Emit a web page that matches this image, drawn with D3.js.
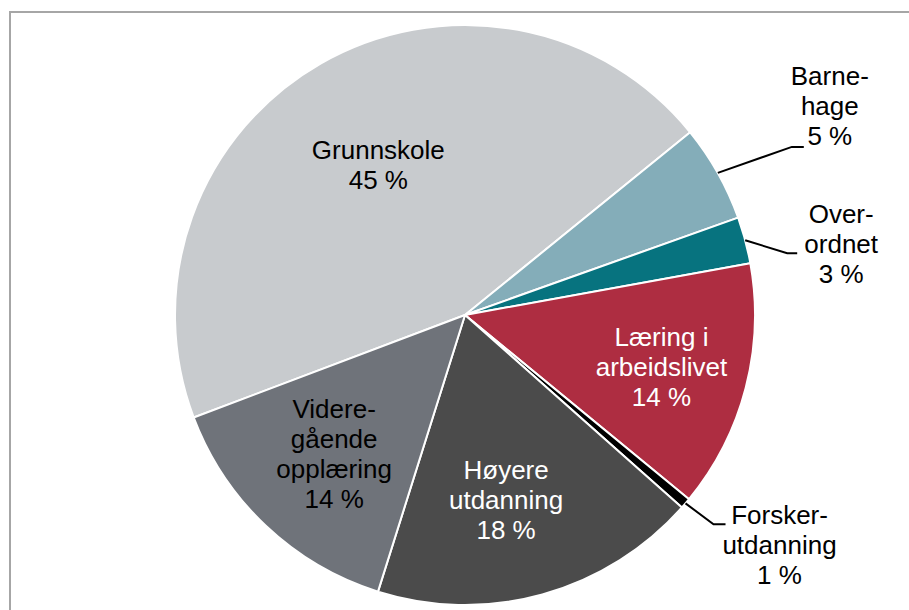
<!DOCTYPE html>
<html>
<head>
<meta charset="utf-8">
<script src="https://cdn.jsdelivr.net/npm/d3@7"></script>
<style>
  body { margin: 0; background: #fff; }
  text { font-family: "Liberation Sans", Arial, sans-serif; font-size: 26px; }
</style>
</head>
<body>
<script>
  // data
  var categories = ["Grunnskole", "Barnehage", "Overordnet", "Læring i arbeidslivet",
                    "Forskerutdanning", "Høyere utdanning", "Videregående opplæring"];
  var values = [44.9, 5.4, 2.6, 13.8, 0.6, 18.3, 14.4];
  var labelLines = [["Grunnskole"], ["Barne-", "hage"], ["Over-", "ordnet"], ["Læring i", "arbeidslivet"],
                    ["Forsker-", "utdanning"], ["Høyere", "utdanning"], ["Videre-", "gående", "opplæring"]];
  var colors = ["#c8cbce", "#84adb9", "#07737f", "#ae2d41", "#000000", "#4b4b4b", "#6f737a"];
  var textColors = ["#000", "#000", "#000", "#fff", "#000", "#fff", "#000"];

  var width = 909, height = 610;
  var cx = 465, cy = 315, radius = 290;
  var lineH = 30;

  // label layout: inside labels sit on a radius fraction, outside ones use a leader line
  var inside = {
    0: { f: 0.60, dx: 0 },
    3: { f: 0.70, dx: 0 },
    5: { f: 0.66, dx: -10 },
    6: { f: 0.657, dx: 0 }
  };
  var outside = {
    1: { ex: 74, ey: -26, h: 12, tx: 26, at: 2, dy: -2 },
    2: { ex: 42, ey: 13, h: 10, tx: 44, at: 1, dy: 0 },
    4: { ex: 28, ey: 21, h: 12, tx: 54, at: 0, dy: 0 }
  };

  var svg = d3.select("body").append("svg")
    .attr("width", width)
    .attr("height", height);

  // frame (runs off the right and bottom edges)
  svg.append("rect")
    .attr("x", 10).attr("y", 12)
    .attr("width", 940).attr("height", 640)
    .attr("fill", "none")
    .attr("stroke", "#a6a6a6")
    .attr("stroke-width", 2);

  var start = -110.7 * Math.PI / 180;
  var pie = d3.pie().sort(null).startAngle(start).endAngle(start + 2 * Math.PI);
  var arcs = pie(values);
  var arc = d3.arc().innerRadius(0).outerRadius(radius);

  var g = svg.append("g").attr("transform", "translate(" + cx + "," + cy + ")");

  g.selectAll("path.slice").data(arcs).enter().append("path")
    .attr("class", "slice")
    .attr("d", arc)
    .attr("fill", function(d, i) { return colors[i]; })
    .attr("stroke", "#fff")
    .attr("stroke-width", 2)
    .attr("stroke-linejoin", "round");

  function lines(i) {
    return labelLines[i].concat([Math.round(values[i]) + " %"]);
  }

  arcs.forEach(function(d, i) {
    var mid = (d.startAngle + d.endAngle) / 2;
    var ls = lines(i);
    var x, firstBase;
    if (inside[i]) {
      var r = inside[i].f * radius;
      x = r * Math.sin(mid) + inside[i].dx;
      var y = -r * Math.cos(mid);
      firstBase = y - (ls.length - 1) * lineH / 2 + 9.5;
    } else {
      var o = outside[i];
      var px = radius * Math.sin(mid), py = -radius * Math.cos(mid);
      var ex = px + o.ex, ey = py + o.ey;
      g.append("polyline")
        .attr("points", [[px, py], [ex, ey], [ex + o.h, ey]].join(" "))
        .attr("fill", "none")
        .attr("stroke", "#000")
        .attr("stroke-width", 2);
      x = ex + o.h + o.tx;
      firstBase = ey + o.dy - o.at * lineH;
    }
    var t = g.append("text")
      .attr("text-anchor", "middle")
      .attr("fill", textColors[i]);
    ls.forEach(function(s, k) {
      t.append("tspan").attr("x", x).attr("y", firstBase + k * lineH).text(s);
    });
  });
</script>
</body>
</html>
